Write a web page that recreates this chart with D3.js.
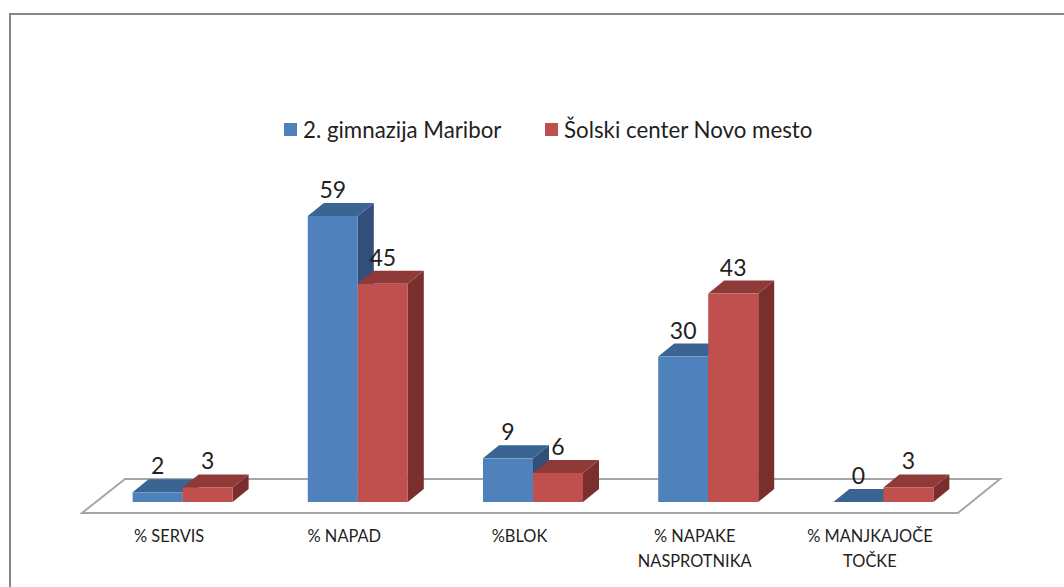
<!DOCTYPE html>
<html>
<head>
<meta charset="utf-8">
<script src="https://d3js.org/d3.v7.min.js"></script>
<style>
  html, body { margin: 0; padding: 0; background: #fff; }
  svg { display: block; }
  text { font-family: Lato, "Open Sans", sans-serif; fill: #1f1f1f; }
</style>
</head>
<body>
<div id="container"></div>
<script>
// chart data
const categories = ["% SERVIS", "% NAPAD", "%BLOK", "% NAPAKE\nNASPROTNIKA", "% MANJKAJOČE\nTOČKE"];
const seriesNames = ["2. gimnazija Maribor", "Šolski center Novo mesto"];
const gimnazija = [2, 59, 9, 30, 0];
const solski = [3, 45, 6, 43, 3];

const width = 1064, height = 587;
const floor = {left: 82, right: 958, front: 513, back: 479, skew: 42};
const depth = {dx: 16, dy: 13};     // 3d offset of the bars
const barShift = {x: 13, y: 11};    // bars sit inside the floor, not on its front edge

const seriesColors = [
  {front: "#4f81bd", top: "#3a6491", side: "#314f78"},
  {front: "#c0504d", top: "#8f3a38", side: "#7a2f2d"}
];

const svg = d3.select("#container").append("svg")
  .attr("width", width)
  .attr("height", height);

// outer frame, only top and left are inside the picture
svg.append("path")
  .attr("d", "M10,587V14H1064")
  .attr("fill", "none")
  .attr("stroke", "#868686")
  .attr("stroke-width", 2);

const x0 = d3.scaleBand().domain(categories).range([floor.left, floor.right]);
const x1 = d3.scaleBand().domain(seriesNames).range([0, 100]);
const y = d3.scaleLinear().domain([0, 59]).range([floor.front - barShift.y, 216]);

// floor
svg.append("path")
  .attr("d", d3.line()([
    [floor.left, floor.front], [floor.right, floor.front],
    [floor.right + floor.skew, floor.back], [floor.left + floor.skew + 1, floor.back]
  ]) + "Z")
  .attr("fill", "#fff")
  .attr("stroke", "#a6a6a6")
  .attr("stroke-width", 2);

// draw the bars category by category, blue first so red overlaps it
const rows = categories.map((c, i) => ({cat: c, values: [gimnazija[i], solski[i]]}));

rows.forEach(row => {
  const left = x0(row.cat) + (x0.bandwidth() - x1.range()[1]) / 2 + barShift.x;
  row.values.forEach((v, s) => {
    const name = seriesNames[s];
    const xa = left + x1(name), xb = xa + x1.bandwidth();
    const yt = y(v), yb = y(0);
    const c = seriesColors[s];
    const g = svg.append("g");
    // side
    if (v > 0) {
      g.append("path")
        .attr("d", d3.line()([[xb, yt], [xb + depth.dx, yt - depth.dy], [xb + depth.dx, yb - depth.dy], [xb, yb]]) + "Z")
        .attr("fill", c.side);
    }
    // top
    g.append("path")
      .attr("d", d3.line()([[xa, yt], [xa + depth.dx, yt - depth.dy], [xb + depth.dx, yt - depth.dy], [xb, yt]]) + "Z")
      .attr("fill", c.top);
    // front
    g.append("rect")
      .attr("x", xa)
      .attr("y", yt)
      .attr("width", x1.bandwidth())
      .attr("height", yb - yt)
      .attr("fill", c.front);
  });
});

// value labels go on top of everything
rows.forEach(row => {
  const left = x0(row.cat) + (x0.bandwidth() - x1.range()[1]) / 2 + barShift.x;
  row.values.forEach((v, s) => {
    svg.append("text")
      .attr("x", left + x1(seriesNames[s]) + x1.bandwidth() / 2)
      .attr("y", y(v) - 18)
      .attr("text-anchor", "middle")
      .attr("font-size", 23)
      .text(v);
  });
});

// category labels
categories.forEach(c => {
  const t = svg.append("text")
    .attr("text-anchor", "middle")
    .attr("font-size", 16.4);
  c.split("\n").forEach((line, i) => {
    t.append("tspan")
      .attr("x", x0(c) + x0.bandwidth() / 2 - 0.5)
      .attr("y", 542 + i * 25)
      .text(line);
  });
});

// legend
const legendX = [284, 545];
seriesNames.forEach((name, i) => {
  svg.append("rect")
    .attr("x", legendX[i])
    .attr("y", 123)
    .attr("width", 13)
    .attr("height", 13)
    .attr("fill", seriesColors[i].front);
  svg.append("text")
    .attr("x", legendX[i] + 19)
    .attr("y", 138)
    .attr("font-size", 22.3)
    .text(name);
});
</script>
</body>
</html>
